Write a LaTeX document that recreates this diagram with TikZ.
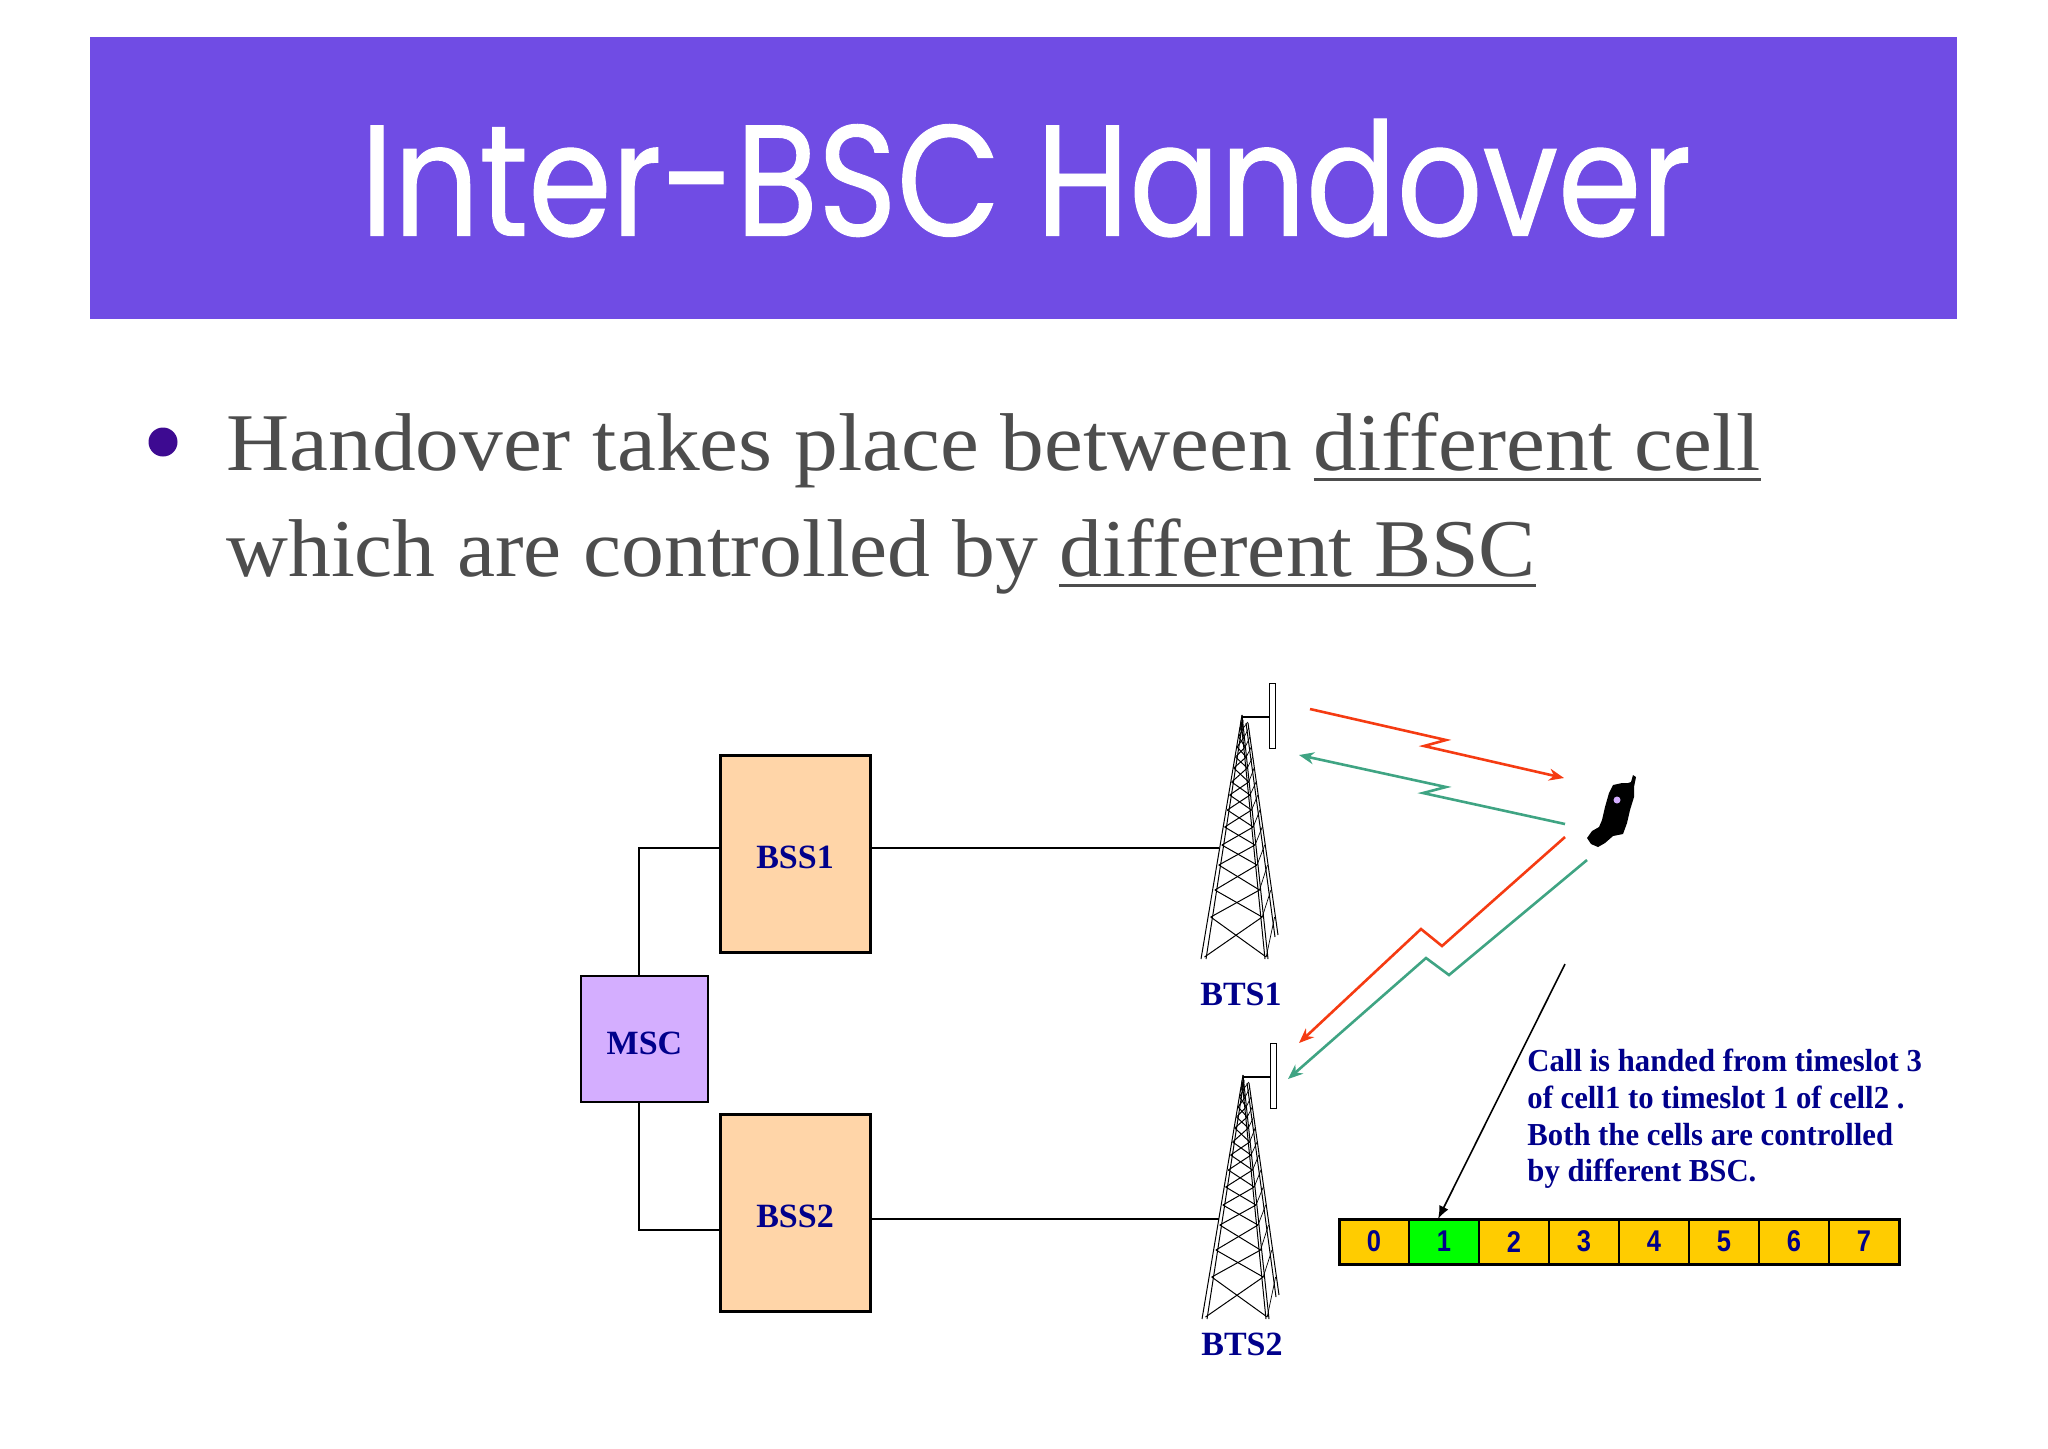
\documentclass[tikz,border=0pt]{standalone}
\usepackage{fontspec}
\usetikzlibrary{positioning,arrows.meta}
\newfontfamily\titlefont{Poppins}[FakeStretch=0.85,FakeBold=0.6]
\newfontfamily\bodyfont{Liberation Serif}[FakeStretch=1.066]
\newfontfamily\bodyfontB{Liberation Serif}[FakeStretch=1.045]
\newfontfamily\labelfont{Liberation Serif}
\newfontfamily\notefont{Liberation Serif}[FakeStretch=0.96]
\newfontfamily\slotfont{Liberation Sans}[FakeStretch=0.85]
\definecolor{barpurple}{HTML}{704CE4}
\definecolor{bulletpurple}{HTML}{3D0A91}
\definecolor{bodygrey}{HTML}{4D4D4D}
\definecolor{labelblue}{HTML}{00008B}
\definecolor{bsspeach}{HTML}{FFD5A8}
\definecolor{msclilac}{HTML}{D4AEFF}
\definecolor{slotgold}{HTML}{FFCC00}
\definecolor{slotgreen}{HTML}{00FF00}
\definecolor{linkred}{HTML}{F53B12}
\definecolor{linkgreen}{HTML}{3FA483}
\newcommand{\ulined}[1]{\setbox0\hbox{#1}\rlap{\vrule width\wd0 height -4.2pt depth 5.6pt}\box0}
\tikzset{
  bss/.style={draw,line width=1.5pt,fill=bsspeach,minimum width=75pt,minimum height=98.5pt,inner sep=0pt,outer sep=0pt,
    text=labelblue,font=\labelfont\bfseries\fontsize{17}{18}\selectfont,text height=15pt,text depth=0pt},
  msc/.style={bss,line width=1pt,fill=msclilac,minimum width=63.5pt,minimum height=63pt},
  btslabel/.style={inner sep=0pt,text=labelblue,font=\labelfont\bfseries\fontsize{17}{18}\selectfont},
  slot/.style={draw,line width=1pt,fill=slotgold,minimum width=35pt,minimum height=22.5pt,inner sep=0pt,outer sep=0pt,
    text=labelblue,font=\slotfont\bfseries\fontsize{15}{16}\selectfont},
  slot1/.style={fill=slotgreen},
  redlink/.style={linkred,line width=1.3pt,-{Stealth[length=7.5pt,width=6pt]}},
  greenlink/.style={linkgreen,line width=1.3pt,-{Stealth[length=7.5pt,width=6pt]}},
  tower/.pic={
    % front legs, back leg, antenna
    \draw[line width=.5pt] (0,0) -- (-41,244) (1,5) -- (-36,244);
    \draw[line width=.5pt] (0,0) -- (26,244) (-1,5) -- (23,244);
    \draw[line width=.5pt] (6,8) -- (36,220) (4,8) -- (33,222);
    \foreach \ya/\yb in {242/202,202/175,175/150,150/130,130/112,112/95,95/80,80/67,67/53,53/42,42/32,32/22,22/13,13/7}{
      \draw[line width=.5pt] ({-.155*\ya},\ya) -- ({.1*\yb},\yb);
      \draw[line width=.5pt] ({-.155*\yb},\yb) -- ({.1*\ya},\ya);
      \draw[line width=.35pt] ({.1*\ya},\ya) -- ({6+.137*(\yb-8)},\yb);
    }
    \draw[line width=.6pt] (0,2) -- (27,2);
    \draw[line width=.5pt,fill=white] (27,-32) rectangle (33,33);
  }
}
\begin{document}
\begin{tikzpicture}[x=.5pt,y=-.5pt]
\useasboundingbox (0,0) rectangle (2048,1448);
% heading
\fill[barpurple] (90,37) rectangle (1957,319);
\node[text=white,inner sep=0pt,font=\titlefont\fontsize{79}{90}\selectfont] (heading) at (1026,178) {Inter-BSC Handover};
% bullet text
\fill[bulletpurple] (163,442) circle (14.5);
\node[anchor=base west,inner sep=0pt,text=bodygrey,font=\bodyfont\fontsize{41}{48}\selectfont] (lineA) at (226,470) {Handover takes place between \ulined{different cell}};
\node[anchor=base west,inner sep=0pt,text=bodygrey,font=\bodyfontB\fontsize{41}{48}\selectfont] (lineB) at (226,576) {which are controlled by \ulined{different BSC}};
% boxes
\node[bss] (bssA) at (795,853.5) {BSS1};
\node[bss] (bssB) at (795,1212.5) {BSS2};
\node[msc] (msc) at (644.5,1039) {MSC};
\coordinate (jointA) at (639,848);
\coordinate (jointB) at (639,1230);
\coordinate (feedA) at (1219,848);
\coordinate (feedB) at (1219,1219);
\draw[line width=1pt] (msc.north -| jointA) -- (jointA) -- (jointA -| bssA.west);
\draw[line width=1pt] (msc.south -| jointB) -- (jointB) -- (jointB -| bssB.west);
\draw[line width=1pt] (feedA -| bssA.east) -- (feedA);
\draw[line width=1pt] (feedB -| bssB.east) -- (feedB);
% towers
\pic (towerA) at (1242,715) {tower};
\pic (towerB) at (1243,1075) {tower};
\node[btslabel] (btsA) at (1241,994) {BTS1};
\node[btslabel] (btsB) at (1242,1344) {BTS2};
% phone
\fill[black] (1633,775) -- (1636,777) -- (1634,787) -- (1634,797) -- (1630,810) -- (1627,823) -- (1623,834) -- (1613,836) -- (1605,843) -- (1598,847) -- (1591,844) -- (1587,838) -- (1592,831) -- (1599,827) -- (1602,820) -- (1605,807) -- (1609,793) -- (1613,785) -- (1622,783) -- (1628,783) -- (1631,782) -- cycle;
\fill[msclilac] (1617,800) circle (3.5);
% radio links
\coordinate (antA) at (1310,709);
\coordinate (phoneA) at (1564,778);
\coordinate (phoneB) at (1565,824);
\coordinate (antB) at (1299,755);
\coordinate (phoneC) at (1565,837);
\coordinate (antC) at (1299,1043);
\coordinate (phoneD) at (1587,860);
\coordinate (antD) at (1288,1079);
\draw[redlink] (antA) -- (1446,740) -- (1424,746) -- (phoneA);
\draw[greenlink] (phoneB) -- (1423,793) -- (1446,787) -- (antB);
\draw[redlink] (phoneC) -- (1442,946) -- (1421,929) -- (antC);
\draw[greenlink] (phoneD) -- (1449,975) -- (1426,958) -- (antD);
% frame with slots
\node[slot] (slot0) at (1374,1241.5) {0};
\foreach \s [remember=\s as \p (initially 0)] in {1,...,7}
  \node[slot,slot\s/.try,right=0pt of slot\p] (slot\s) {\s};
\draw[line width=1.5pt] (slot0.north west) rectangle (slot7.south east);
\coordinate (callstart) at (1565,964);
\draw[line width=.8pt,-{Latex[length=6.5pt,width=5pt]}] (callstart) -- ([xshift=-3pt]slot1.north);
\node[anchor=west,inner sep=0pt,align=left,text=labelblue,font=\notefont\bfseries\fontsize{16}{18.35}\selectfont] (callnote) at (1527,1119) {Call is handed from timeslot 3\\of cell1 to timeslot 1 of cell2 .\\Both the cells are controlled\\by different BSC.};
\end{tikzpicture}
\end{document}
